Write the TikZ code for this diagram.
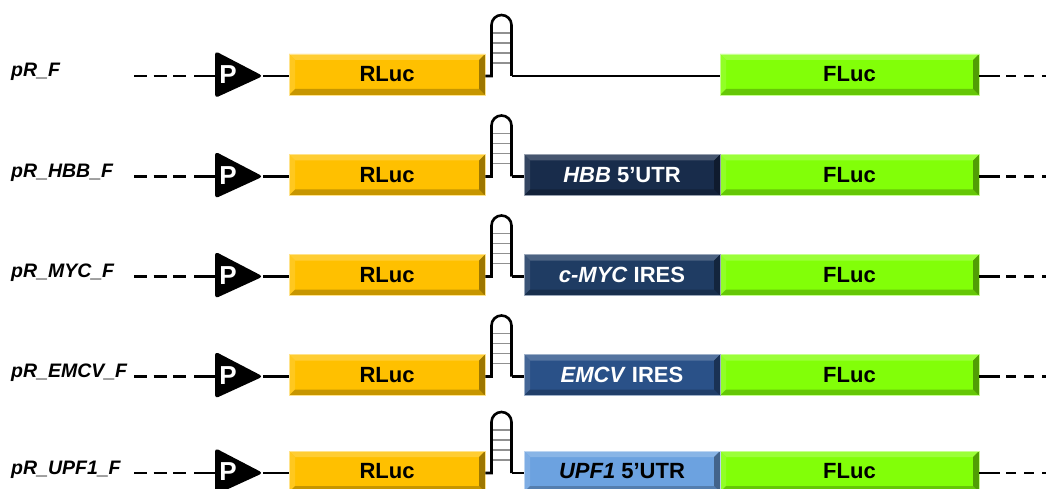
\documentclass[tikz,border=0pt]{standalone}
\usepackage{fontspec}
\setmainfont{Liberation Sans}
\usetikzlibrary{calc}
\definecolor{rluc}{HTML}{FFC000}
\definecolor{fluc}{HTML}{82FF08}
\definecolor{hbb}{HTML}{182C4B}
\definecolor{myc}{HTML}{1F3C63}
\definecolor{emcv}{HTML}{2A5188}
\definecolor{upf}{HTML}{6CA2E0}
\definecolor{runggray}{HTML}{909090}
\newcommand\bvw{6pt}
\tikzset{
  genebox/.style={rectangle, inner sep=0pt, minimum height=41pt,
    fill=#1, draw=#1!45!white, line width=0.8pt,
    font=\fontsize{22}{25}\selectfont\bfseries,
    path picture={
      \fill[#1!80!white] (path picture bounding box.north west) -- (path picture bounding box.north east)
        -- ([shift={(-\bvw,-\bvw)}]path picture bounding box.north east)
        -- ([shift={(\bvw,-\bvw)}]path picture bounding box.north west) -- cycle;
      \fill[#1!88!white] (path picture bounding box.north west) -- (path picture bounding box.south west)
        -- ([shift={(\bvw,\bvw)}]path picture bounding box.south west)
        -- ([shift={(\bvw,-\bvw)}]path picture bounding box.north west) -- cycle;
      \fill[#1!78!black] (path picture bounding box.south west) -- (path picture bounding box.south east)
        -- ([shift={(-\bvw,\bvw)}]path picture bounding box.south east)
        -- ([shift={(\bvw,\bvw)}]path picture bounding box.south west) -- cycle;
      \fill[#1!62!black] (path picture bounding box.north east) -- (path picture bounding box.south east)
        -- ([shift={(-\bvw,\bvw)}]path picture bounding box.south east)
        -- ([shift={(-\bvw,-\bvw)}]path picture bounding box.north east) -- cycle;
    }},
  dna/.style={line width=2.6pt, black},
  dashline/.style={line width=2.6pt, black, dash pattern=on 13pt off 6.5pt},
  dashright/.style={line width=2.6pt, black, dash pattern=on 10pt off 8pt},
  rungline/.style={line width=1.6pt, runggray},
  lab/.style={font=\fontsize{19.5}{22}\selectfont\bfseries\itshape, inner sep=0pt},
  plabel/.style={font=\fontsize{26}{28}\selectfont\bfseries, text=white, inner sep=0pt},
}
\begin{document}
\begin{tikzpicture}[x=1pt, y=-1pt]
\useasboundingbox (0,0) rectangle (1046,489);
\clip (0,0) rectangle (1046,489);
\fill[white] (0,0) rectangle (1046,489);
\foreach \i/\y/\lab in {1/76/pR\_F, 2/176.5/pR\_HBB\_F, 3/276.5/pR\_MYC\_F, 4/376.5/pR\_EMCV\_F, 5/473/pR\_UPF1\_F}{
  \node[lab, anchor=base west] (L\i) at (11,{\y+1}) {\lab};
  \coordinate (da\i) at (134,\y);
  \coordinate (db\i) at (186,\y);
  \coordinate (s\i) at (194,\y);
  \coordinate (pb\i) at (216,\y);
  \coordinate (pt\i) at (263,\y);
  \draw[dashline] (da\i) -- (db\i);
  \draw[dna] (s\i) -- (pb\i);
  \fill[black, rounded corners=3.5pt] (215,{\y-25}) -- (pt\i) -- (215,{\y+22}) -- cycle;
  \node[plabel] (P\i) at (228,{\y-1}) {P};
  \node[genebox=rluc, minimum width=196pt] (R\i) at (387,{\y-1.5}) {RLuc};
  \node[genebox=fluc, minimum width=259pt] (F\i) at (849.5,{\y-1.5}) {FLuc};
  \draw[dna] (pt\i) -- (pt\i -| R\i.west);
  \coordinate (hl\i) at (491.5,\y);
  \coordinate (hr\i) at (511.5,\y);
  \foreach \r in {13,23,33,43}{
    \draw[rungline] (492,{\y-\r}) -- (511,{\y-\r});
  }
  \draw[dna, line join=miter] (R\i.east |- pt\i) -- (hl\i) -- ++(0,-51) arc (180:360:10) -- (hr\i);
  \coordinate (ea\i) at (1000,\y);
  \coordinate (eb\i) at (1006,\y);
  \coordinate (ec\i) at (1046,\y);
  \draw[dna] (F\i.east |- pt\i) -- (ea\i);
  \draw[dashright] (eb\i) -- (ec\i);
}
% first construct: no 5' element
\draw[dna] (hr1) -- (hr1 -| F1.west);
% 5' elements
\node[genebox=hbb, minimum width=196pt, text=white] (U2) at (622,175) {\textit{HBB} 5'UTR};
\node[genebox=myc, minimum width=196pt, text=white] (U3) at (622,275) {\textit{c-MYC} IRES};
\node[genebox=emcv, minimum width=196pt, text=white] (U4) at (622,375) {\textit{EMCV} IRES};
\node[genebox=upf, minimum width=196pt, text=black] (U5) at (622,471.5) {\textit{UPF1} 5'UTR};
\foreach \i in {2,3,4,5}{
  \draw[dna] (hr\i) -- (hr\i -| U\i.west);
}
\end{tikzpicture}
\end{document}
